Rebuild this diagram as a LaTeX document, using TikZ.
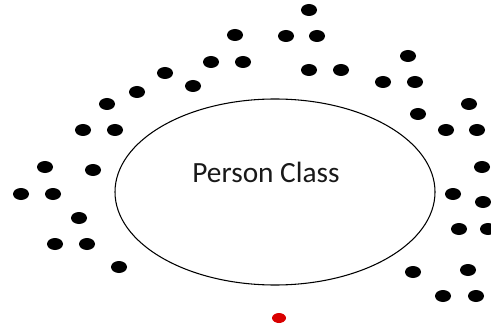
\documentclass[tikz,border=0pt]{standalone}
\usepackage{fontspec}
\setmainfont{Carlito}
\tikzset{
  blob/.style={fill=black},
  reddot/.style={fill=red!85!black}
}

\begin{document}
\begin{tikzpicture}[x=0.75pt,y=-0.75pt,line cap=round,line join=round]
  \useasboundingbox (0,0) rectangle (491,331);
  % the class
  \draw[line width=0.8pt] (275,192) ellipse (160 and 93);
  \node[font=\fontsize{22}{26}\selectfont,text=black!90] (cls) at (266,172) {Person Class};
  % objects round it
  \foreach \px/\py in {235/35,211/62,243/62,165/73,193/86,137/92,107/104,
      83/130,115/130,45/167,93/170,21/194,53/194,79/218,55/244,87/244,119/267,
      309/10,286/36,317/36,309/70,341/70,408/56,383/82,415/82,418/114,
      469/104,446/130,477/130,482/167,453/194,483/202,459/229,488/229,
      413/272,468/270,443/296,476/296}
    \fill[blob] (\px,\py) ellipse (8 and 6);
  \fill[reddot] (279,318) ellipse (7 and 5);
\end{tikzpicture}
\end{document}
